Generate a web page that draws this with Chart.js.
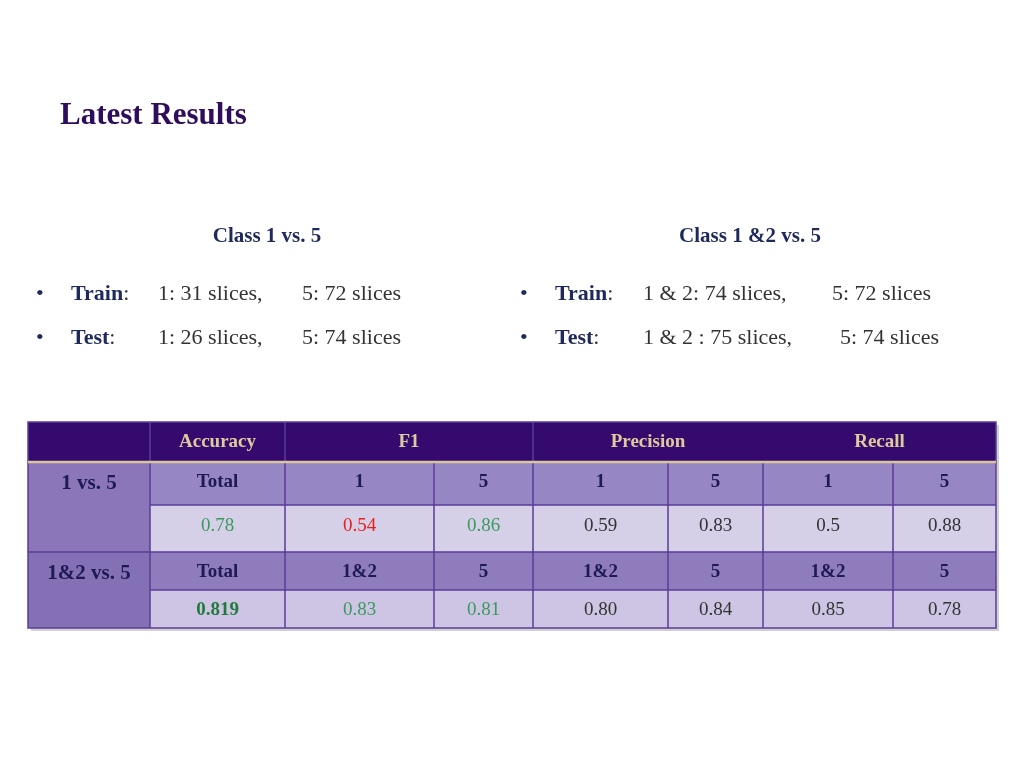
<!DOCTYPE html>
<html><head><meta charset="utf-8">
<script src="https://cdn.jsdelivr.net/npm/chart.js@4/dist/chart.umd.min.js"></script>
<style>html,body{margin:0;padding:0;background:#fff}canvas{display:block}</style>
</head><body>
<canvas id="c" width="1024" height="768"></canvas>
<script>
const title = "Latest Results";
const groupTitles = ["Class 1 vs. 5", "Class 1 &2 vs. 5"];
const trainLeft = ["1: 31 slices,", "5: 72 slices"];
const testLeft = ["1: 26 slices,", "5: 74 slices"];
const trainRight = ["1 & 2: 74 slices,", "5: 72 slices"];
const testRight = ["1 & 2 : 75 slices,", "5: 74 slices"];
const metricHeaders = ["Accuracy", "F1", "Precision", "Recall"];
const rowLabels = ["1 vs. 5", "1&2 vs. 5"];
const subHeaders1 = ["Total", "1", "5", "1", "5", "1", "5"];
const values1 = ["0.78", "0.54", "0.86", "0.59", "0.83", "0.5", "0.88"];
const subHeaders2 = ["Total", "1&2", "5", "1&2", "5", "1&2", "5"];
const values2 = ["0.819", "0.83", "0.81", "0.80", "0.84", "0.85", "0.78"];
const valueColors1 = ["#3a9a5e", "#e8201c", "#3a9a5e", "#333", "#333", "#333", "#333"];
const valueColors2 = ["#1f7a3c", "#3a9a5e", "#3a9a5e", "#333", "#333", "#333", "#333"];

const cols = [28,150,285,434,533,668,763,893,996];
const rows = [422,462,505,552,590,628];

const slide = {
  id: 'slide',
  afterDraw(chart) {
    const c = chart.ctx;
    c.save();
    c.textBaseline = 'middle';
    const serif = 'Liberation Serif';
    c.fillStyle = '#2e0e5c'; c.font = 'bold 31px ' + serif; c.textAlign = 'left';
    c.fillText(title, 60, 116);
    c.fillStyle = '#1f2a5c'; c.font = 'bold 21px ' + serif; c.textAlign = 'center';
    c.fillText(groupTitles[0], 267, 237); c.fillText(groupTitles[1], 750, 237);
    c.font = '22px ' + serif; c.textAlign = 'left';
    function bullet(x, y, lab, a, b, xa, xb, labx) {
      c.fillStyle = '#1f2a5c'; c.font = '22px ' + serif; c.fillText('•', x, y);
      c.font = 'bold 22px ' + serif; c.fillText(lab, labx, y);
      const w = c.measureText(lab).width;
      c.font = '22px ' + serif; c.fillStyle = '#333'; c.fillText(':', labx + w, y);
      c.fillStyle = '#333'; c.fillText(a, xa, y); c.fillText(b, xb, y);
    }
    bullet(36, 294, 'Train', trainLeft[0], trainLeft[1], 158, 302, 71);
    bullet(36, 338, 'Test', testLeft[0], testLeft[1], 158, 302, 71);
    bullet(520, 294, 'Train', trainRight[0], trainRight[1], 643, 832, 555);
    bullet(520, 338, 'Test', testRight[0], testRight[1], 643, 840, 555);
    // shadow
    c.fillStyle = 'rgba(0,0,0,0.18)';
    c.fillRect(cols[0]+3, rows[0]+3, cols[8]-cols[0], rows[5]-rows[0]);
    // header row
    c.fillStyle = '#350a6e'; c.fillRect(cols[0], rows[0], cols[8]-cols[0], rows[1]-rows[0]);
    // row backgrounds
    const bg = ['#9686c4', '#d5cfe8', '#8f7cbd', '#cdc5e3'];
    for (let r = 0; r < 4; r++) { c.fillStyle = bg[r]; c.fillRect(cols[1], rows[r+1], cols[8]-cols[1], rows[r+2]-rows[r+1]); }
    c.fillStyle = '#8b76ba'; c.fillRect(cols[0], rows[1], cols[1]-cols[0], rows[3]-rows[1]);
    c.fillStyle = '#8470b5'; c.fillRect(cols[0], rows[3], cols[1]-cols[0], rows[5]-rows[3]);
    // lines
    c.strokeStyle = '#5b3c98'; c.lineWidth = 1.5;
    c.beginPath();
    for (let i = 1; i < 8; i++) { c.moveTo(cols[i], rows[1]); c.lineTo(cols[i], rows[5]); }
    [1,2,4].forEach(i => { c.moveTo(cols[i], rows[0]); c.lineTo(cols[i], rows[1]); });
    c.moveTo(cols[1], rows[2]); c.lineTo(cols[8], rows[2]);
    c.moveTo(cols[1], rows[4]); c.lineTo(cols[8], rows[4]);
    c.moveTo(cols[0], rows[3]); c.lineTo(cols[8], rows[3]);
    c.stroke();
    c.strokeStyle = '#5b3c98'; c.strokeRect(cols[0], rows[0], cols[8]-cols[0], rows[5]-rows[0]);
    c.strokeStyle = '#d8c79a'; c.lineWidth = 2.5;
    c.beginPath(); c.moveTo(cols[0], rows[1]); c.lineTo(cols[8], rows[1]); c.stroke();
    // header text
    c.fillStyle = '#dccb9c'; c.font = 'bold 19px ' + serif; c.textAlign = 'center';
    const hx = [(cols[1]+cols[2])/2, (cols[2]+cols[4])/2, (cols[4]+cols[6])/2, (cols[6]+cols[8])/2];
    metricHeaders.forEach((h, i) => c.fillText(h, hx[i], 442));
    c.fillStyle = '#1d1a55'; c.font = 'bold 21px ' + serif;
    c.fillText(rowLabels[0], 89, 484); c.fillText(rowLabels[1], 89, 574);
    for (let i = 0; i < 7; i++) {
      const x = (cols[i+1]+cols[i+2])/2;
      c.font = 'bold 19px ' + serif; c.fillStyle = '#1d1a55';
      c.fillText(subHeaders1[i], x, 482); c.fillText(subHeaders2[i], x, 572);
      c.font = '19px ' + serif;
      c.fillStyle = valueColors1[i]; c.fillText(values1[i], x, 526);
      c.font = (i === 0 ? 'bold ' : '') + '19px ' + serif;
      c.fillStyle = valueColors2[i]; c.fillText(values2[i], x, 610);
    }
    c.restore();
  }
};
new Chart(document.getElementById('c'), {
  type: 'bar',
  data: { labels: [], datasets: [] },
  options: { responsive: false, animation: false,
    plugins: { legend: { display: false }, tooltip: { enabled: false } },
    scales: { x: { display: false }, y: { display: false } } },
  plugins: [slide]
});
</script>
</body></html>
